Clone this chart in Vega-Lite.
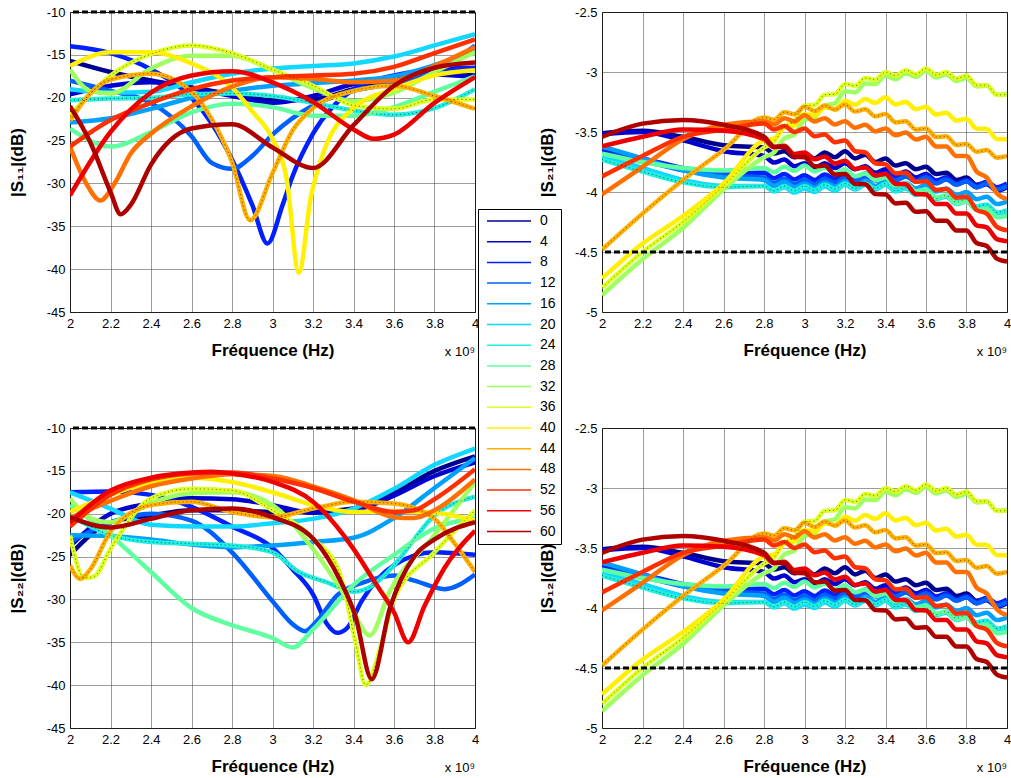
{
"$schema": "https://vega.github.io/schema/vega-lite/v6.json",
"padding": {"left": 7, "top": 5, "right": 5, "bottom": 5},
"datasets": {
"s11": [
{"k":0,"f":2,"v":-15.7},{"k":0,"f":2.2,"v":-17.0},{"k":0,"f":2.4,"v":-18.0},{"k":0,"f":2.6,"v":-18.8},{"k":0,"f":2.8,"v":-19.6},{"k":0,"f":3,"v":-20.3},{"k":0,"f":3.2,"v":-20.2},{"k":0,"f":3.4,"v":-19.0},{"k":0,"f":3.6,"v":-17.8},{"k":0,"f":3.8,"v":-17.2},{"k":0,"f":4,"v":-17.4},
{"k":4,"f":2,"v":-19.6},{"k":4,"f":2.2,"v":-18.6},{"k":4,"f":2.4,"v":-18.2},{"k":4,"f":2.6,"v":-18.9},{"k":4,"f":2.8,"v":-19.8},{"k":4,"f":3,"v":-20.6},{"k":4,"f":3.2,"v":-19.8},{"k":4,"f":3.4,"v":-18.4},{"k":4,"f":3.6,"v":-17.8},{"k":4,"f":3.8,"v":-17.3},{"k":4,"f":4,"v":-17.6},
{"k":8,"f":2,"v":-14.0},{"k":8,"f":2.2,"v":-14.8},{"k":8,"f":2.4,"v":-16.7},{"k":8,"f":2.6,"v":-20.0},{"k":8,"f":2.7,"v":-23.0},{"k":8,"f":2.8,"v":-27.2},{"k":8,"f":2.9,"v":-32.5},{"k":8,"f":2.975,"v":-37.0},{"k":8,"f":3.05,"v":-32.5},{"k":8,"f":3.1,"v":-29.1},{"k":8,"f":3.2,"v":-24.2},{"k":8,"f":3.4,"v":-19.0},{"k":8,"f":3.6,"v":-17.4},{"k":8,"f":3.8,"v":-16.7},{"k":8,"f":4,"v":-16.5},
{"k":12,"f":2,"v":-18.0},{"k":12,"f":2.2,"v":-19.2},{"k":12,"f":2.4,"v":-20.6},{"k":12,"f":2.6,"v":-24.5},{"k":12,"f":2.7,"v":-27.6},{"k":12,"f":2.8,"v":-28.3},{"k":12,"f":2.9,"v":-26.8},{"k":12,"f":3,"v":-24.3},{"k":12,"f":3.2,"v":-20.9},{"k":12,"f":3.4,"v":-19.2},{"k":12,"f":3.6,"v":-18.3},{"k":12,"f":3.8,"v":-17.0},{"k":12,"f":4,"v":-13.9},
{"k":16,"f":2,"v":-22.9},{"k":16,"f":2.2,"v":-22.4},{"k":16,"f":2.4,"v":-21.3},{"k":16,"f":2.6,"v":-20.0},{"k":16,"f":2.8,"v":-19.2},{"k":16,"f":3,"v":-18.6},{"k":16,"f":3.2,"v":-18.3},{"k":16,"f":3.4,"v":-18.0},{"k":16,"f":3.6,"v":-17.5},{"k":16,"f":3.8,"v":-16.2},{"k":16,"f":4,"v":-14.6},
{"k":20,"f":2,"v":-19.0},{"k":20,"f":2.2,"v":-19.4},{"k":20,"f":2.4,"v":-19.3},{"k":20,"f":2.6,"v":-18.2},{"k":20,"f":2.8,"v":-17.2},{"k":20,"f":3,"v":-16.6},{"k":20,"f":3.2,"v":-16.3},{"k":20,"f":3.4,"v":-16.0},{"k":20,"f":3.6,"v":-15.2},{"k":20,"f":3.8,"v":-13.9},{"k":20,"f":4,"v":-12.6},
{"k":24,"f":2,"v":-20.3},{"k":24,"f":2.2,"v":-20.1},{"k":24,"f":2.4,"v":-20.0},{"k":24,"f":2.6,"v":-19.6},{"k":24,"f":2.8,"v":-19.5},{"k":24,"f":3,"v":-19.8},{"k":24,"f":3.2,"v":-20.6},{"k":24,"f":3.4,"v":-21.5},{"k":24,"f":3.6,"v":-22.0},{"k":24,"f":3.8,"v":-21.2},{"k":24,"f":4,"v":-19.0},
{"k":28,"f":2,"v":-23.6},{"k":28,"f":2.2,"v":-25.7},{"k":28,"f":2.4,"v":-24.0},{"k":28,"f":2.6,"v":-21.7},{"k":28,"f":2.8,"v":-20.7},{"k":28,"f":3,"v":-21.1},{"k":28,"f":3.2,"v":-22.1},{"k":28,"f":3.4,"v":-22.1},{"k":28,"f":3.6,"v":-21.1},{"k":28,"f":3.8,"v":-19.3},{"k":28,"f":4,"v":-17.5},
{"k":32,"f":2,"v":-16.7},{"k":32,"f":2.1,"v":-19.2},{"k":32,"f":2.2,"v":-19.5},{"k":32,"f":2.4,"v":-16.6},{"k":32,"f":2.6,"v":-15.1},{"k":32,"f":2.8,"v":-15.1},{"k":32,"f":3,"v":-16.8},{"k":32,"f":3.2,"v":-18.9},{"k":32,"f":3.4,"v":-20.4},{"k":32,"f":3.6,"v":-19.4},{"k":32,"f":3.8,"v":-17.0},{"k":32,"f":4,"v":-14.7},
{"k":36,"f":2,"v":-22.1},{"k":36,"f":2.2,"v":-17.4},{"k":36,"f":2.4,"v":-14.9},{"k":36,"f":2.6,"v":-13.9},{"k":36,"f":2.8,"v":-14.8},{"k":36,"f":3,"v":-16.7},{"k":36,"f":3.2,"v":-18.6},{"k":36,"f":3.4,"v":-20.9},{"k":36,"f":3.6,"v":-21.3},{"k":36,"f":3.8,"v":-20.2},{"k":36,"f":4,"v":-20.2},
{"k":40,"f":2,"v":-16.3},{"k":40,"f":2.2,"v":-14.7},{"k":40,"f":2.4,"v":-14.7},{"k":40,"f":2.6,"v":-16.0},{"k":40,"f":2.8,"v":-18.8},{"k":40,"f":2.9,"v":-21.6},{"k":40,"f":3,"v":-24.8},{"k":40,"f":3.07,"v":-29.5},{"k":40,"f":3.13,"v":-40.4},{"k":40,"f":3.19,"v":-31.5},{"k":40,"f":3.25,"v":-26.5},{"k":40,"f":3.4,"v":-21.2},{"k":40,"f":3.6,"v":-19.0},{"k":40,"f":3.8,"v":-17.4},{"k":40,"f":4,"v":-16.8},
{"k":44,"f":2,"v":-22.7},{"k":44,"f":2.1,"v":-19.5},{"k":44,"f":2.2,"v":-17.9},{"k":44,"f":2.4,"v":-17.2},{"k":44,"f":2.6,"v":-19.3},{"k":44,"f":2.7,"v":-22.5},{"k":44,"f":2.8,"v":-27.5},{"k":44,"f":2.89,"v":-34.3},{"k":44,"f":3,"v":-28.8},{"k":44,"f":3.1,"v":-23.8},{"k":44,"f":3.2,"v":-21.2},{"k":44,"f":3.4,"v":-19.2},{"k":44,"f":3.6,"v":-18.6},{"k":44,"f":3.8,"v":-19.8},{"k":44,"f":4,"v":-21.3},
{"k":48,"f":2,"v":-25.7},{"k":48,"f":2.08,"v":-30.0},{"k":48,"f":2.15,"v":-32.0},{"k":48,"f":2.22,"v":-30.0},{"k":48,"f":2.3,"v":-26.5},{"k":48,"f":2.4,"v":-24.2},{"k":48,"f":2.6,"v":-21.0},{"k":48,"f":2.8,"v":-18.7},{"k":48,"f":3,"v":-17.6},{"k":48,"f":3.2,"v":-17.8},{"k":48,"f":3.4,"v":-18.2},{"k":48,"f":3.6,"v":-18.0},{"k":48,"f":3.8,"v":-16.3},{"k":48,"f":4,"v":-14.1},
{"k":52,"f":2,"v":-25.7},{"k":52,"f":2.2,"v":-22.6},{"k":52,"f":2.4,"v":-20.6},{"k":52,"f":2.6,"v":-19.0},{"k":52,"f":2.8,"v":-18.0},{"k":52,"f":3,"v":-17.6},{"k":52,"f":3.2,"v":-17.4},{"k":52,"f":3.4,"v":-17.2},{"k":52,"f":3.6,"v":-16.4},{"k":52,"f":3.8,"v":-14.8},{"k":52,"f":4,"v":-13.2},
{"k":56,"f":2,"v":-31.4},{"k":56,"f":2.2,"v":-24.0},{"k":56,"f":2.4,"v":-19.4},{"k":56,"f":2.6,"v":-17.4},{"k":56,"f":2.8,"v":-16.9},{"k":56,"f":3,"v":-18.2},{"k":56,"f":3.2,"v":-20.5},{"k":56,"f":3.4,"v":-23.7},{"k":56,"f":3.5,"v":-24.8},{"k":56,"f":3.6,"v":-24.3},{"k":56,"f":3.8,"v":-20.6},{"k":56,"f":4,"v":-17.6},
{"k":60,"f":2,"v":-21.0},{"k":60,"f":2.1,"v":-25.2},{"k":60,"f":2.2,"v":-31.0},{"k":60,"f":2.25,"v":-33.6},{"k":60,"f":2.3,"v":-32.5},{"k":60,"f":2.4,"v":-27.8},{"k":60,"f":2.6,"v":-23.6},{"k":60,"f":2.8,"v":-23.1},{"k":60,"f":3,"v":-25.8},{"k":60,"f":3.2,"v":-28.2},{"k":60,"f":3.4,"v":-23.2},{"k":60,"f":3.6,"v":-18.6},{"k":60,"f":3.8,"v":-16.5},{"k":60,"f":4,"v":-15.9}
],
"s22": [
{"k":0,"f":2,"v":-24.8},{"k":0,"f":2.2,"v":-21.0},{"k":0,"f":2.4,"v":-20.2},{"k":0,"f":2.6,"v":-19.6},{"k":0,"f":2.8,"v":-19.6},{"k":0,"f":3,"v":-19.8},{"k":0,"f":3.2,"v":-19.8},{"k":0,"f":3.4,"v":-19.4},{"k":0,"f":3.6,"v":-17.6},{"k":0,"f":3.8,"v":-15.0},{"k":0,"f":4,"v":-13.3},
{"k":4,"f":2,"v":-23.8},{"k":4,"f":2.2,"v":-20.0},{"k":4,"f":2.4,"v":-18.8},{"k":4,"f":2.6,"v":-18.2},{"k":4,"f":2.8,"v":-18.3},{"k":4,"f":3,"v":-19.0},{"k":4,"f":3.2,"v":-19.9},{"k":4,"f":3.4,"v":-19.6},{"k":4,"f":3.6,"v":-17.9},{"k":4,"f":3.8,"v":-15.6},{"k":4,"f":4,"v":-14.0},
{"k":8,"f":2,"v":-17.5},{"k":8,"f":2.2,"v":-17.4},{"k":8,"f":2.4,"v":-17.8},{"k":8,"f":2.6,"v":-19.2},{"k":8,"f":2.8,"v":-21.5},{"k":8,"f":3,"v":-24.0},{"k":8,"f":3.1,"v":-26.5},{"k":8,"f":3.2,"v":-29.4},{"k":8,"f":3.27,"v":-32.9},{"k":8,"f":3.32,"v":-33.9},{"k":8,"f":3.37,"v":-33.3},{"k":8,"f":3.44,"v":-30.2},{"k":8,"f":3.6,"v":-26.0},{"k":8,"f":3.8,"v":-24.5},{"k":8,"f":4,"v":-24.8},
{"k":12,"f":2,"v":-23.3},{"k":12,"f":2.2,"v":-21.0},{"k":12,"f":2.4,"v":-20.0},{"k":12,"f":2.6,"v":-20.8},{"k":12,"f":2.8,"v":-24.5},{"k":12,"f":3,"v":-30.2},{"k":12,"f":3.1,"v":-32.9},{"k":12,"f":3.16,"v":-33.7},{"k":12,"f":3.22,"v":-32.5},{"k":12,"f":3.32,"v":-29.5},{"k":12,"f":3.45,"v":-28.0},{"k":12,"f":3.6,"v":-27.2},{"k":12,"f":3.7,"v":-27.8},{"k":12,"f":3.85,"v":-28.8},{"k":12,"f":4,"v":-27.1},
{"k":16,"f":2,"v":-22.5},{"k":16,"f":2.2,"v":-22.6},{"k":16,"f":2.4,"v":-23.0},{"k":16,"f":2.6,"v":-23.6},{"k":16,"f":2.8,"v":-23.9},{"k":16,"f":3,"v":-23.7},{"k":16,"f":3.2,"v":-23.3},{"k":16,"f":3.4,"v":-22.8},{"k":16,"f":3.6,"v":-20.5},{"k":16,"f":3.8,"v":-17.0},{"k":16,"f":4,"v":-13.5},
{"k":20,"f":2,"v":-17.5},{"k":20,"f":2.2,"v":-19.4},{"k":20,"f":2.4,"v":-21.3},{"k":20,"f":2.6,"v":-21.5},{"k":20,"f":2.8,"v":-21.5},{"k":20,"f":3,"v":-21.1},{"k":20,"f":3.2,"v":-20.6},{"k":20,"f":3.4,"v":-19.4},{"k":20,"f":3.6,"v":-17.1},{"k":20,"f":3.8,"v":-14.3},{"k":20,"f":4,"v":-12.4},
{"k":24,"f":2,"v":-20.2},{"k":24,"f":2.2,"v":-22.5},{"k":24,"f":2.4,"v":-23.3},{"k":24,"f":2.6,"v":-23.5},{"k":24,"f":2.8,"v":-23.7},{"k":24,"f":3,"v":-24.5},{"k":24,"f":3.13,"v":-26.8},{"k":24,"f":3.27,"v":-28.0},{"k":24,"f":3.4,"v":-29.1},{"k":24,"f":3.5,"v":-28.3},{"k":24,"f":3.6,"v":-26.0},{"k":24,"f":3.8,"v":-20.2},{"k":24,"f":4,"v":-18.0},
{"k":28,"f":2,"v":-19.0},{"k":28,"f":2.2,"v":-22.5},{"k":28,"f":2.4,"v":-26.8},{"k":28,"f":2.6,"v":-31.0},{"k":28,"f":2.8,"v":-33.0},{"k":28,"f":3,"v":-34.5},{"k":28,"f":3.1,"v":-35.6},{"k":28,"f":3.2,"v":-33.5},{"k":28,"f":3.4,"v":-28.3},{"k":28,"f":3.6,"v":-24.8},{"k":28,"f":3.8,"v":-21.7},{"k":28,"f":4,"v":-20.5},
{"k":32,"f":2,"v":-18.2},{"k":32,"f":2.1,"v":-20.5},{"k":32,"f":2.2,"v":-21.0},{"k":32,"f":2.3,"v":-20.0},{"k":32,"f":2.4,"v":-18.8},{"k":32,"f":2.6,"v":-17.6},{"k":32,"f":2.8,"v":-17.5},{"k":32,"f":3,"v":-19.0},{"k":32,"f":3.2,"v":-24.1},{"k":32,"f":3.37,"v":-30.0},{"k":32,"f":3.48,"v":-34.2},{"k":32,"f":3.58,"v":-29.0},{"k":32,"f":3.8,"v":-22.5},{"k":32,"f":4,"v":-16.3},
{"k":36,"f":2,"v":-22.5},{"k":36,"f":2.07,"v":-27.5},{"k":36,"f":2.12,"v":-27.3},{"k":36,"f":2.2,"v":-24.1},{"k":36,"f":2.4,"v":-18.2},{"k":36,"f":2.6,"v":-17.1},{"k":36,"f":2.8,"v":-17.3},{"k":36,"f":3,"v":-19.6},{"k":36,"f":3.2,"v":-22.9},{"k":36,"f":3.33,"v":-26.8},{"k":36,"f":3.41,"v":-35.0},{"k":36,"f":3.46,"v":-40.0},{"k":36,"f":3.54,"v":-35.0},{"k":36,"f":3.6,"v":-30.0},{"k":36,"f":3.8,"v":-24.5},{"k":36,"f":4,"v":-19.6},
{"k":40,"f":2,"v":-19.8},{"k":40,"f":2.2,"v":-17.8},{"k":40,"f":2.4,"v":-16.3},{"k":40,"f":2.6,"v":-15.8},{"k":40,"f":2.8,"v":-16.3},{"k":40,"f":3,"v":-17.5},{"k":40,"f":3.2,"v":-19.0},{"k":40,"f":3.4,"v":-19.8},{"k":40,"f":3.6,"v":-19.7},{"k":40,"f":3.8,"v":-19.9},{"k":40,"f":4,"v":-20.8},
{"k":44,"f":2,"v":-26.0},{"k":44,"f":2.05,"v":-27.6},{"k":44,"f":2.1,"v":-26.5},{"k":44,"f":2.2,"v":-22.1},{"k":44,"f":2.4,"v":-19.0},{"k":44,"f":2.6,"v":-18.6},{"k":44,"f":2.8,"v":-19.8},{"k":44,"f":3,"v":-20.4},{"k":44,"f":3.2,"v":-19.4},{"k":44,"f":3.4,"v":-18.6},{"k":44,"f":3.6,"v":-18.8},{"k":44,"f":3.8,"v":-20.6},{"k":44,"f":3.9,"v":-23.5},{"k":44,"f":4,"v":-26.8},
{"k":48,"f":2,"v":-20.5},{"k":48,"f":2.2,"v":-18.5},{"k":48,"f":2.4,"v":-16.8},{"k":48,"f":2.6,"v":-15.9},{"k":48,"f":2.8,"v":-15.4},{"k":48,"f":3,"v":-15.6},{"k":48,"f":3.2,"v":-16.8},{"k":48,"f":3.4,"v":-18.4},{"k":48,"f":3.6,"v":-20.4},{"k":48,"f":3.7,"v":-20.5},{"k":48,"f":3.8,"v":-19.6},{"k":48,"f":4,"v":-16.0},
{"k":52,"f":2,"v":-21.5},{"k":52,"f":2.2,"v":-17.8},{"k":52,"f":2.4,"v":-16.0},{"k":52,"f":2.6,"v":-15.3},{"k":52,"f":2.8,"v":-15.2},{"k":52,"f":3,"v":-15.9},{"k":52,"f":3.2,"v":-17.0},{"k":52,"f":3.4,"v":-18.6},{"k":52,"f":3.6,"v":-19.8},{"k":52,"f":3.7,"v":-19.6},{"k":52,"f":3.8,"v":-18.3},{"k":52,"f":4,"v":-14.8},
{"k":56,"f":2,"v":-21.0},{"k":56,"f":2.2,"v":-17.3},{"k":56,"f":2.4,"v":-15.8},{"k":56,"f":2.6,"v":-15.2},{"k":56,"f":2.7,"v":-15.1},{"k":56,"f":2.8,"v":-15.3},{"k":56,"f":3,"v":-16.3},{"k":56,"f":3.2,"v":-18.6},{"k":56,"f":3.4,"v":-24.1},{"k":56,"f":3.5,"v":-27.8},{"k":56,"f":3.6,"v":-31.5},{"k":56,"f":3.67,"v":-35.0},{"k":56,"f":3.75,"v":-30.8},{"k":56,"f":3.85,"v":-26.3},{"k":56,"f":4,"v":-22.0},
{"k":60,"f":2,"v":-20.4},{"k":60,"f":2.2,"v":-21.6},{"k":60,"f":2.4,"v":-20.6},{"k":60,"f":2.6,"v":-19.6},{"k":60,"f":2.8,"v":-19.4},{"k":60,"f":3,"v":-20.4},{"k":60,"f":3.2,"v":-22.9},{"k":60,"f":3.33,"v":-27.6},{"k":60,"f":3.41,"v":-32.0},{"k":60,"f":3.49,"v":-39.3},{"k":60,"f":3.58,"v":-31.0},{"k":60,"f":3.7,"v":-25.0},{"k":60,"f":3.8,"v":-23.0},{"k":60,"f":4,"v":-21.0}
],
"s21": [
{"k":0,"f":2,"v":-3.51},{"k":0,"f":2.2,"v":-3.49},{"k":0,"f":2.4,"v":-3.54},{"k":0,"f":2.6,"v":-3.61},{"k":0,"f":2.8,"v":-3.63},{"k":0,"f":2.85,"v":-3.68},{"k":0,"f":2.9,"v":-3.66},{"k":0,"f":2.95,"v":-3.71},{"k":0,"f":3,"v":-3.68},{"k":0,"f":3.05,"v":-3.72},{"k":0,"f":3.1,"v":-3.67},{"k":0,"f":3.15,"v":-3.71},{"k":0,"f":3.2,"v":-3.66},{"k":0,"f":3.25,"v":-3.72},{"k":0,"f":3.3,"v":-3.69},{"k":0,"f":3.35,"v":-3.75},{"k":0,"f":3.4,"v":-3.72},{"k":0,"f":3.45,"v":-3.78},{"k":0,"f":3.5,"v":-3.76},{"k":0,"f":3.55,"v":-3.81},{"k":0,"f":3.6,"v":-3.79},{"k":0,"f":3.65,"v":-3.85},{"k":0,"f":3.7,"v":-3.84},{"k":0,"f":3.75,"v":-3.90},{"k":0,"f":3.8,"v":-3.88},{"k":0,"f":3.85,"v":-3.94},{"k":0,"f":3.9,"v":-3.92},{"k":0,"f":3.95,"v":-3.97},{"k":0,"f":4,"v":-3.95},
{"k":4,"f":2,"v":-3.52},{"k":4,"f":2.2,"v":-3.50},{"k":4,"f":2.4,"v":-3.57},{"k":4,"f":2.6,"v":-3.66},{"k":4,"f":2.8,"v":-3.70},{"k":4,"f":2.85,"v":-3.755},{"k":4,"f":2.9,"v":-3.73},{"k":4,"f":2.95,"v":-3.785},{"k":4,"f":3,"v":-3.76},{"k":4,"f":3.05,"v":-3.80},{"k":4,"f":3.1,"v":-3.76},{"k":4,"f":3.15,"v":-3.80},{"k":4,"f":3.2,"v":-3.76},{"k":4,"f":3.25,"v":-3.81},{"k":4,"f":3.3,"v":-3.785},{"k":4,"f":3.35,"v":-3.84},{"k":4,"f":3.4,"v":-3.81},{"k":4,"f":3.45,"v":-3.86},{"k":4,"f":3.5,"v":-3.83},{"k":4,"f":3.55,"v":-3.88},{"k":4,"f":3.6,"v":-3.85},{"k":4,"f":3.65,"v":-3.905},{"k":4,"f":3.7,"v":-3.88},{"k":4,"f":3.75,"v":-3.935},{"k":4,"f":3.8,"v":-3.91},{"k":4,"f":3.85,"v":-3.96},{"k":4,"f":3.9,"v":-3.935},{"k":4,"f":3.95,"v":-3.99},{"k":4,"f":4,"v":-3.96},
{"k":8,"f":2,"v":-3.66},{"k":8,"f":2.2,"v":-3.72},{"k":8,"f":2.4,"v":-3.80},{"k":8,"f":2.6,"v":-3.84},{"k":8,"f":2.8,"v":-3.84},{"k":8,"f":2.85,"v":-3.885},{"k":8,"f":2.9,"v":-3.85},{"k":8,"f":2.95,"v":-3.895},{"k":8,"f":3,"v":-3.86},{"k":8,"f":3.05,"v":-3.90},{"k":8,"f":3.1,"v":-3.855},{"k":8,"f":3.15,"v":-3.89},{"k":8,"f":3.2,"v":-3.85},{"k":8,"f":3.25,"v":-3.89},{"k":8,"f":3.3,"v":-3.845},{"k":8,"f":3.35,"v":-3.88},{"k":8,"f":3.4,"v":-3.84},{"k":8,"f":3.45,"v":-3.885},{"k":8,"f":3.5,"v":-3.85},{"k":8,"f":3.55,"v":-3.895},{"k":8,"f":3.6,"v":-3.86},{"k":8,"f":3.65,"v":-3.91},{"k":8,"f":3.7,"v":-3.88},{"k":8,"f":3.75,"v":-3.93},{"k":8,"f":3.8,"v":-3.90},{"k":8,"f":3.85,"v":-3.95},{"k":8,"f":3.9,"v":-3.915},{"k":8,"f":3.95,"v":-3.96},{"k":8,"f":4,"v":-3.93},
{"k":12,"f":2,"v":-3.68},{"k":12,"f":2.2,"v":-3.74},{"k":12,"f":2.4,"v":-3.82},{"k":12,"f":2.6,"v":-3.86},{"k":12,"f":2.8,"v":-3.88},{"k":12,"f":2.85,"v":-3.925},{"k":12,"f":2.9,"v":-3.89},{"k":12,"f":2.95,"v":-3.935},{"k":12,"f":3,"v":-3.90},{"k":12,"f":3.05,"v":-3.935},{"k":12,"f":3.1,"v":-3.89},{"k":12,"f":3.15,"v":-3.925},{"k":12,"f":3.2,"v":-3.88},{"k":12,"f":3.25,"v":-3.915},{"k":12,"f":3.3,"v":-3.87},{"k":12,"f":3.35,"v":-3.905},{"k":12,"f":3.4,"v":-3.86},{"k":12,"f":3.45,"v":-3.905},{"k":12,"f":3.5,"v":-3.87},{"k":12,"f":3.55,"v":-3.915},{"k":12,"f":3.6,"v":-3.88},{"k":12,"f":3.65,"v":-3.93},{"k":12,"f":3.7,"v":-3.895},{"k":12,"f":3.75,"v":-3.94},{"k":12,"f":3.8,"v":-3.91},{"k":12,"f":3.85,"v":-3.96},{"k":12,"f":3.9,"v":-3.93},{"k":12,"f":3.95,"v":-3.98},{"k":12,"f":4,"v":-3.95},
{"k":16,"f":2,"v":-3.62},{"k":16,"f":2.2,"v":-3.72},{"k":16,"f":2.4,"v":-3.82},{"k":16,"f":2.6,"v":-3.88},{"k":16,"f":2.8,"v":-3.90},{"k":16,"f":2.85,"v":-3.95},{"k":16,"f":2.9,"v":-3.915},{"k":16,"f":2.95,"v":-3.96},{"k":16,"f":3,"v":-3.93},{"k":16,"f":3.05,"v":-3.965},{"k":16,"f":3.1,"v":-3.92},{"k":16,"f":3.15,"v":-3.955},{"k":16,"f":3.2,"v":-3.91},{"k":16,"f":3.25,"v":-3.95},{"k":16,"f":3.3,"v":-3.91},{"k":16,"f":3.35,"v":-3.95},{"k":16,"f":3.4,"v":-3.91},{"k":16,"f":3.45,"v":-3.96},{"k":16,"f":3.5,"v":-3.925},{"k":16,"f":3.55,"v":-3.97},{"k":16,"f":3.6,"v":-3.94},{"k":16,"f":3.65,"v":-3.995},{"k":16,"f":3.7,"v":-3.97},{"k":16,"f":3.75,"v":-4.025},{"k":16,"f":3.8,"v":-4.00},{"k":16,"f":3.85,"v":-4.06},{"k":16,"f":3.9,"v":-4.04},{"k":16,"f":3.95,"v":-4.10},{"k":16,"f":4,"v":-4.08},
{"k":20,"f":2,"v":-3.70},{"k":20,"f":2.2,"v":-3.80},{"k":20,"f":2.4,"v":-3.90},{"k":20,"f":2.6,"v":-3.95},{"k":20,"f":2.8,"v":-3.95},{"k":20,"f":2.85,"v":-3.995},{"k":20,"f":2.9,"v":-3.96},{"k":20,"f":2.95,"v":-4.005},{"k":20,"f":3,"v":-3.97},{"k":20,"f":3.05,"v":-4.00},{"k":20,"f":3.1,"v":-3.955},{"k":20,"f":3.15,"v":-3.99},{"k":20,"f":3.2,"v":-3.94},{"k":20,"f":3.25,"v":-3.98},{"k":20,"f":3.3,"v":-3.94},{"k":20,"f":3.35,"v":-3.98},{"k":20,"f":3.4,"v":-3.94},{"k":20,"f":3.45,"v":-3.995},{"k":20,"f":3.5,"v":-3.97},{"k":20,"f":3.55,"v":-4.025},{"k":20,"f":3.6,"v":-4.00},{"k":20,"f":3.65,"v":-4.06},{"k":20,"f":3.7,"v":-4.04},{"k":20,"f":3.75,"v":-4.10},{"k":20,"f":3.8,"v":-4.08},{"k":20,"f":3.85,"v":-4.145},{"k":20,"f":3.9,"v":-4.13},{"k":20,"f":3.95,"v":-4.195},{"k":20,"f":4,"v":-4.18},
{"k":24,"f":2,"v":-3.73},{"k":24,"f":2.2,"v":-3.83},{"k":24,"f":2.4,"v":-3.92},{"k":24,"f":2.6,"v":-3.96},{"k":24,"f":2.8,"v":-3.95},{"k":24,"f":2.85,"v":-3.99},{"k":24,"f":2.9,"v":-3.95},{"k":24,"f":2.95,"v":-3.99},{"k":24,"f":3,"v":-3.95},{"k":24,"f":3.05,"v":-3.985},{"k":24,"f":3.1,"v":-3.94},{"k":24,"f":3.15,"v":-3.975},{"k":24,"f":3.2,"v":-3.93},{"k":24,"f":3.25,"v":-3.97},{"k":24,"f":3.3,"v":-3.93},{"k":24,"f":3.35,"v":-3.97},{"k":24,"f":3.4,"v":-3.93},{"k":24,"f":3.45,"v":-3.99},{"k":24,"f":3.5,"v":-3.965},{"k":24,"f":3.55,"v":-4.02},{"k":24,"f":3.6,"v":-4.00},{"k":24,"f":3.65,"v":-4.055},{"k":24,"f":3.7,"v":-4.03},{"k":24,"f":3.75,"v":-4.085},{"k":24,"f":3.8,"v":-4.06},{"k":24,"f":3.85,"v":-4.12},{"k":24,"f":3.9,"v":-4.105},{"k":24,"f":3.95,"v":-4.17},{"k":24,"f":4,"v":-4.15},
{"k":28,"f":2,"v":-3.68},{"k":28,"f":2.2,"v":-3.75},{"k":28,"f":2.4,"v":-3.80},{"k":28,"f":2.6,"v":-3.82},{"k":28,"f":2.8,"v":-3.80},{"k":28,"f":2.85,"v":-3.835},{"k":28,"f":2.9,"v":-3.79},{"k":28,"f":2.95,"v":-3.825},{"k":28,"f":3,"v":-3.78},{"k":28,"f":3.05,"v":-3.83},{"k":28,"f":3.1,"v":-3.795},{"k":28,"f":3.15,"v":-3.845},{"k":28,"f":3.2,"v":-3.81},{"k":28,"f":3.25,"v":-3.87},{"k":28,"f":3.3,"v":-3.845},{"k":28,"f":3.35,"v":-3.90},{"k":28,"f":3.4,"v":-3.88},{"k":28,"f":3.45,"v":-3.945},{"k":28,"f":3.5,"v":-3.93},{"k":28,"f":3.55,"v":-3.995},{"k":28,"f":3.6,"v":-3.98},{"k":28,"f":3.65,"v":-4.045},{"k":28,"f":3.7,"v":-4.03},{"k":28,"f":3.75,"v":-4.095},{"k":28,"f":3.8,"v":-4.08},{"k":28,"f":3.85,"v":-4.15},{"k":28,"f":3.9,"v":-4.14},{"k":28,"f":3.95,"v":-4.21},{"k":28,"f":4,"v":-4.20},
{"k":32,"f":2,"v":-4.86},{"k":32,"f":2.2,"v":-4.56},{"k":32,"f":2.4,"v":-4.30},{"k":32,"f":2.6,"v":-3.98},{"k":32,"f":2.8,"v":-3.71},{"k":32,"f":2.85,"v":-3.67},{"k":32,"f":2.9,"v":-3.555},{"k":32,"f":2.95,"v":-3.52},{"k":32,"f":3,"v":-3.40},{"k":32,"f":3.05,"v":-3.38},{"k":32,"f":3.1,"v":-3.28},{"k":32,"f":3.15,"v":-3.26},{"k":32,"f":3.2,"v":-3.16},{"k":32,"f":3.25,"v":-3.17},{"k":32,"f":3.3,"v":-3.095},{"k":32,"f":3.35,"v":-3.10},{"k":32,"f":3.4,"v":-3.03},{"k":32,"f":3.45,"v":-3.06},{"k":32,"f":3.5,"v":-3.01},{"k":32,"f":3.55,"v":-3.04},{"k":32,"f":3.6,"v":-2.99},{"k":32,"f":3.65,"v":-3.045},{"k":32,"f":3.7,"v":-3.02},{"k":32,"f":3.75,"v":-3.075},{"k":32,"f":3.8,"v":-3.05},{"k":32,"f":3.85,"v":-3.12},{"k":32,"f":3.9,"v":-3.115},{"k":32,"f":3.95,"v":-3.19},{"k":32,"f":4,"v":-3.18},
{"k":36,"f":2,"v":-4.80},{"k":36,"f":2.2,"v":-4.50},{"k":36,"f":2.4,"v":-4.25},{"k":36,"f":2.6,"v":-3.95},{"k":36,"f":2.8,"v":-3.63},{"k":36,"f":2.85,"v":-3.58},{"k":36,"f":2.9,"v":-3.455},{"k":36,"f":2.95,"v":-3.41},{"k":36,"f":3,"v":-3.28},{"k":36,"f":3.05,"v":-3.275},{"k":36,"f":3.1,"v":-3.19},{"k":36,"f":3.15,"v":-3.185},{"k":36,"f":3.2,"v":-3.10},{"k":36,"f":3.25,"v":-3.115},{"k":36,"f":3.3,"v":-3.05},{"k":36,"f":3.35,"v":-3.065},{"k":36,"f":3.4,"v":-3.00},{"k":36,"f":3.45,"v":-3.03},{"k":36,"f":3.5,"v":-2.985},{"k":36,"f":3.55,"v":-3.02},{"k":36,"f":3.6,"v":-2.97},{"k":36,"f":3.65,"v":-3.025},{"k":36,"f":3.7,"v":-3.00},{"k":36,"f":3.75,"v":-3.055},{"k":36,"f":3.8,"v":-3.03},{"k":36,"f":3.85,"v":-3.11},{"k":36,"f":3.9,"v":-3.11},{"k":36,"f":3.95,"v":-3.19},{"k":36,"f":4,"v":-3.19},
{"k":40,"f":2,"v":-4.72},{"k":40,"f":2.2,"v":-4.43},{"k":40,"f":2.4,"v":-4.20},{"k":40,"f":2.6,"v":-3.93},{"k":40,"f":2.8,"v":-3.57},{"k":40,"f":2.85,"v":-3.555},{"k":40,"f":2.9,"v":-3.46},{"k":40,"f":2.95,"v":-3.445},{"k":40,"f":3,"v":-3.35},{"k":40,"f":3.05,"v":-3.3625},{"k":40,"f":3.1,"v":-3.295},{"k":40,"f":3.15,"v":-3.3075},{"k":40,"f":3.2,"v":-3.24},{"k":40,"f":3.25,"v":-3.2725},{"k":40,"f":3.3,"v":-3.225},{"k":40,"f":3.35,"v":-3.2575},{"k":40,"f":3.4,"v":-3.21},{"k":40,"f":3.45,"v":-3.27},{"k":40,"f":3.5,"v":-3.25},{"k":40,"f":3.55,"v":-3.31},{"k":40,"f":3.6,"v":-3.29},{"k":40,"f":3.65,"v":-3.355},{"k":40,"f":3.7,"v":-3.34},{"k":40,"f":3.75,"v":-3.405},{"k":40,"f":3.8,"v":-3.39},{"k":40,"f":3.85,"v":-3.4725},{"k":40,"f":3.9,"v":-3.475},{"k":40,"f":3.95,"v":-3.5575},{"k":40,"f":4,"v":-3.56},
{"k":44,"f":2,"v":-4.48},{"k":44,"f":2.2,"v":-4.18},{"k":44,"f":2.4,"v":-3.90},{"k":44,"f":2.6,"v":-3.65},{"k":44,"f":2.8,"v":-3.38},{"k":44,"f":2.85,"v":-3.3975},{"k":44,"f":2.9,"v":-3.335},{"k":44,"f":2.95,"v":-3.3525},{"k":44,"f":3,"v":-3.29},{"k":44,"f":3.05,"v":-3.325},{"k":44,"f":3.1,"v":-3.28},{"k":44,"f":3.15,"v":-3.315},{"k":44,"f":3.2,"v":-3.27},{"k":44,"f":3.25,"v":-3.33},{"k":44,"f":3.3,"v":-3.31},{"k":44,"f":3.35,"v":-3.37},{"k":44,"f":3.4,"v":-3.35},{"k":44,"f":3.45,"v":-3.42},{"k":44,"f":3.5,"v":-3.41},{"k":44,"f":3.55,"v":-3.48},{"k":44,"f":3.6,"v":-3.47},{"k":44,"f":3.65,"v":-3.5425},{"k":44,"f":3.7,"v":-3.535},{"k":44,"f":3.75,"v":-3.6075},{"k":44,"f":3.8,"v":-3.60},{"k":44,"f":3.85,"v":-3.665},{"k":44,"f":3.9,"v":-3.65},{"k":44,"f":3.95,"v":-3.715},{"k":44,"f":4,"v":-3.70},
{"k":48,"f":2,"v":-4.02},{"k":48,"f":2.2,"v":-3.79},{"k":48,"f":2.4,"v":-3.56},{"k":48,"f":2.6,"v":-3.44},{"k":48,"f":2.8,"v":-3.41},{"k":48,"f":2.85,"v":-3.4375},{"k":48,"f":2.9,"v":-3.385},{"k":48,"f":2.95,"v":-3.4125},{"k":48,"f":3,"v":-3.36},{"k":48,"f":3.05,"v":-3.4125},{"k":48,"f":3.1,"v":-3.385},{"k":48,"f":3.15,"v":-3.4375},{"k":48,"f":3.2,"v":-3.41},{"k":48,"f":3.25,"v":-3.465},{"k":48,"f":3.3,"v":-3.44},{"k":48,"f":3.35,"v":-3.495},{"k":48,"f":3.4,"v":-3.47},{"k":48,"f":3.45,"v":-3.5275},{"k":48,"f":3.5,"v":-3.505},{"k":48,"f":3.55,"v":-3.5625},{"k":48,"f":3.6,"v":-3.54},{"k":48,"f":3.65,"v":-3.62},{"k":48,"f":3.7,"v":-3.62},{"k":48,"f":3.75,"v":-3.70},{"k":48,"f":3.8,"v":-3.70},{"k":48,"f":3.85,"v":-3.83},{"k":48,"f":3.9,"v":-3.88},{"k":48,"f":3.95,"v":-4.01},{"k":48,"f":4,"v":-4.06},
{"k":52,"f":2,"v":-3.87},{"k":52,"f":2.2,"v":-3.70},{"k":52,"f":2.4,"v":-3.54},{"k":52,"f":2.6,"v":-3.48},{"k":52,"f":2.8,"v":-3.43},{"k":52,"f":2.85,"v":-3.48},{"k":52,"f":2.9,"v":-3.45},{"k":52,"f":2.95,"v":-3.50},{"k":52,"f":3,"v":-3.47},{"k":52,"f":3.05,"v":-3.535},{"k":52,"f":3.1,"v":-3.52},{"k":52,"f":3.15,"v":-3.585},{"k":52,"f":3.2,"v":-3.57},{"k":52,"f":3.25,"v":-3.66},{"k":52,"f":3.3,"v":-3.67},{"k":52,"f":3.35,"v":-3.76},{"k":52,"f":3.4,"v":-3.77},{"k":52,"f":3.45,"v":-3.845},{"k":52,"f":3.5,"v":-3.84},{"k":52,"f":3.55,"v":-3.915},{"k":52,"f":3.6,"v":-3.91},{"k":52,"f":3.65,"v":-3.9825},{"k":52,"f":3.7,"v":-3.975},{"k":52,"f":3.75,"v":-4.0475},{"k":52,"f":3.8,"v":-4.04},{"k":52,"f":3.85,"v":-4.15},{"k":52,"f":3.9,"v":-4.18},{"k":52,"f":3.95,"v":-4.29},{"k":52,"f":4,"v":-4.32},
{"k":56,"f":2,"v":-3.62},{"k":56,"f":2.2,"v":-3.54},{"k":56,"f":2.4,"v":-3.48},{"k":56,"f":2.6,"v":-3.49},{"k":56,"f":2.8,"v":-3.56},{"k":56,"f":2.85,"v":-3.6275},{"k":56,"f":2.9,"v":-3.615},{"k":56,"f":2.95,"v":-3.6825},{"k":56,"f":3,"v":-3.67},{"k":56,"f":3.05,"v":-3.7275},{"k":56,"f":3.1,"v":-3.705},{"k":56,"f":3.15,"v":-3.7625},{"k":56,"f":3.2,"v":-3.74},{"k":56,"f":3.25,"v":-3.8075},{"k":56,"f":3.3,"v":-3.795},{"k":56,"f":3.35,"v":-3.8625},{"k":56,"f":3.4,"v":-3.85},{"k":56,"f":3.45,"v":-3.9325},{"k":56,"f":3.5,"v":-3.935},{"k":56,"f":3.55,"v":-4.0175},{"k":56,"f":3.6,"v":-4.02},{"k":56,"f":3.65,"v":-4.10},{"k":56,"f":3.7,"v":-4.10},{"k":56,"f":3.75,"v":-4.18},{"k":56,"f":3.8,"v":-4.18},{"k":56,"f":3.85,"v":-4.2775},{"k":56,"f":3.9,"v":-4.295},{"k":56,"f":3.95,"v":-4.3925},{"k":56,"f":4,"v":-4.41},
{"k":60,"f":2,"v":-3.54},{"k":60,"f":2.2,"v":-3.43},{"k":60,"f":2.4,"v":-3.40},{"k":60,"f":2.6,"v":-3.44},{"k":60,"f":2.8,"v":-3.54},{"k":60,"f":2.85,"v":-3.6225},{"k":60,"f":2.9,"v":-3.625},{"k":60,"f":2.95,"v":-3.7075},{"k":60,"f":3,"v":-3.71},{"k":60,"f":3.05,"v":-3.785},{"k":60,"f":3.1,"v":-3.78},{"k":60,"f":3.15,"v":-3.855},{"k":60,"f":3.2,"v":-3.85},{"k":60,"f":3.25,"v":-3.9325},{"k":60,"f":3.3,"v":-3.935},{"k":60,"f":3.35,"v":-4.0175},{"k":60,"f":3.4,"v":-4.02},{"k":60,"f":3.45,"v":-4.095},{"k":60,"f":3.5,"v":-4.09},{"k":60,"f":3.55,"v":-4.165},{"k":60,"f":3.6,"v":-4.16},{"k":60,"f":3.65,"v":-4.24},{"k":60,"f":3.7,"v":-4.24},{"k":60,"f":3.75,"v":-4.32},{"k":60,"f":3.8,"v":-4.32},{"k":60,"f":3.85,"v":-4.425},{"k":60,"f":3.9,"v":-4.45},{"k":60,"f":3.95,"v":-4.555},{"k":60,"f":4,"v":-4.58}
]
},
"config": {
  "font": "Liberation Sans",
  "view": {"stroke": "black", "strokeWidth": 1},
  "axis": {"grid": true, "gridColor": "#3a3a3a", "gridDash": [1, 1], "gridWidth": 1, "ticks": false, "domain": false, "labelFontSize": 13, "labelColor": "black", "titleFontSize": 17, "titleFontWeight": "bold", "titleColor": "black", "labelPadding": 5, "labelExpr": "'' + datum.value"},
  "axisX": {"titlePadding": 12, "labelFlush": false},
  "axisY": {"titlePadding": 18},
  "legend": {"orient": "none", "legendX": 408, "legendY": 197, "padding": 5, "strokeColor": "black", "fillColor": "white", "symbolType": "M-4.2,0H4.2", "symbolSize": 110, "symbolStrokeWidth": 1.5, "symbolOffset": 19, "labelOffset": 24, "labelFontSize": 14, "labelColor": "black", "rowPadding": 6.7, "symbolLimit": 0}
},
"resolve": {"scale": {"color": "shared"}, "legend": {"color": "shared"}},
"bounds": "flush",
"columns": 2,
"spacing": {"row": 116, "column": 127},
"concat": [
{
 "width": 405, "height": 300,
 "layer": [
  {"data": {"name": "s11"},
   "mark": {"type": "line", "strokeWidth": 4.5, "interpolate": "monotone", "clip": true},
   "encoding": {
    "x": {"field": "f", "type": "quantitative", "scale": {"domain": [2, 4], "nice": false, "zero": false}, "axis": {"values": [2, 2.2, 2.4, 2.6, 2.8, 3, 3.2, 3.4, 3.6, 3.8, 4], "title": "Fréquence (Hz)"}},
    "y": {"field": "v", "type": "quantitative", "scale": {"domain": [-45, -10], "nice": false, "zero": false}, "axis": {"values": [-45, -40, -35, -30, -25, -20, -15, -10], "title": "|S₁₁|(dB)", "titlePadding": 20}},
    "color": {"field": "k", "type": "ordinal", "scale": {"domain": [0, 4, 8, 12, 16, 20, 24, 28, 32, 36, 40, 44, 48, 52, 56, 60], "range": ["#000090", "#0000CF", "#0020FF", "#0060FF", "#00A0FF", "#10D8FF", "#20EFDF", "#60FFA0", "#9FFF60", "#DFFF20", "#FFEF00", "#FFAF00", "#FF7000", "#FF3000", "#EF0000", "#AF0000"]}, "legend": {"title": null}}
   }},
  {"data": {"name": "s11"},
   "transform": [{"filter": {"field": "k", "oneOf": [24, 36, 44]}}],
   "mark": {"type": "line", "stroke": "black", "strokeWidth": 1, "strokeDash": [1, 3], "opacity": 0.6, "interpolate": "monotone", "clip": true},
   "encoding": {"x": {"field": "f", "type": "quantitative"}, "y": {"field": "v", "type": "quantitative"}, "detail": {"field": "k"}}},
  {"data": {"values": [{}]}, "mark": {"type": "rule", "strokeDash": [6, 3], "strokeWidth": 3, "color": "black"}, "encoding": {"y": {"datum": -10}}},
  {"data": {"values": [{}]}, "mark": {"type": "text", "text": "x 10⁹", "align": "right", "baseline": "alphabetic", "dy": 44, "fontSize": 13, "fontWeight": "normal"}, "encoding": {"x": {"datum": 4}, "y": {"datum": -45}}}
 ]
},
{
 "width": 405, "height": 300,
 "layer": [
  {"data": {"name": "s21"},
   "mark": {"type": "line", "strokeWidth": 4.5, "interpolate": "monotone", "clip": true},
   "encoding": {
    "x": {"field": "f", "type": "quantitative", "scale": {"domain": [2, 4], "nice": false, "zero": false}, "axis": {"values": [2, 2.2, 2.4, 2.6, 2.8, 3, 3.2, 3.4, 3.6, 3.8, 4], "title": "Fréquence (Hz)"}},
    "y": {"field": "v", "type": "quantitative", "scale": {"domain": [-5, -2.5], "nice": false, "zero": false}, "axis": {"values": [-5, -4.5, -4, -3.5, -3, -2.5], "title": "|S₂₁|(dB)"}},
    "color": {"field": "k", "type": "ordinal", "legend": {"title": null}}
   }},
  {"data": {"name": "s21"},
   "transform": [{"filter": {"field": "k", "oneOf": [24, 36, 44]}}],
   "mark": {"type": "line", "stroke": "black", "strokeWidth": 1, "strokeDash": [1, 3], "opacity": 0.6, "interpolate": "monotone", "clip": true},
   "encoding": {"x": {"field": "f", "type": "quantitative"}, "y": {"field": "v", "type": "quantitative"}, "detail": {"field": "k"}}},
  {"data": {"values": [{}]}, "mark": {"type": "rule", "strokeDash": [6, 3], "strokeWidth": 3, "color": "black"}, "encoding": {"y": {"datum": -4.5}}},
  {"data": {"values": [{}]}, "mark": {"type": "text", "text": "x 10⁹", "align": "right", "baseline": "alphabetic", "dy": 44, "fontSize": 13, "fontWeight": "normal"}, "encoding": {"x": {"datum": 4}, "y": {"datum": -5}}}
 ]
},
{
 "width": 405, "height": 300,
 "layer": [
  {"data": {"name": "s22"},
   "mark": {"type": "line", "strokeWidth": 4.5, "interpolate": "monotone", "clip": true},
   "encoding": {
    "x": {"field": "f", "type": "quantitative", "scale": {"domain": [2, 4], "nice": false, "zero": false}, "axis": {"values": [2, 2.2, 2.4, 2.6, 2.8, 3, 3.2, 3.4, 3.6, 3.8, 4], "title": "Fréquence (Hz)"}},
    "y": {"field": "v", "type": "quantitative", "scale": {"domain": [-45, -10], "nice": false, "zero": false}, "axis": {"values": [-45, -40, -35, -30, -25, -20, -15, -10], "title": "|S₂₂|(dB)", "titlePadding": 20}},
    "color": {"field": "k", "type": "ordinal", "legend": {"title": null}}
   }},
  {"data": {"name": "s22"},
   "transform": [{"filter": {"field": "k", "oneOf": [24, 36, 44]}}],
   "mark": {"type": "line", "stroke": "black", "strokeWidth": 1, "strokeDash": [1, 3], "opacity": 0.6, "interpolate": "monotone", "clip": true},
   "encoding": {"x": {"field": "f", "type": "quantitative"}, "y": {"field": "v", "type": "quantitative"}, "detail": {"field": "k"}}},
  {"data": {"values": [{}]}, "mark": {"type": "rule", "strokeDash": [6, 3], "strokeWidth": 3, "color": "black"}, "encoding": {"y": {"datum": -10}}},
  {"data": {"values": [{}]}, "mark": {"type": "text", "text": "x 10⁹", "align": "right", "baseline": "alphabetic", "dy": 44, "fontSize": 13, "fontWeight": "normal"}, "encoding": {"x": {"datum": 4}, "y": {"datum": -45}}}
 ]
},
{
 "width": 405, "height": 300,
 "layer": [
  {"data": {"name": "s21"},
   "mark": {"type": "line", "strokeWidth": 4.5, "interpolate": "monotone", "clip": true},
   "encoding": {
    "x": {"field": "f", "type": "quantitative", "scale": {"domain": [2, 4], "nice": false, "zero": false}, "axis": {"values": [2, 2.2, 2.4, 2.6, 2.8, 3, 3.2, 3.4, 3.6, 3.8, 4], "title": "Fréquence (Hz)"}},
    "y": {"field": "v", "type": "quantitative", "scale": {"domain": [-5, -2.5], "nice": false, "zero": false}, "axis": {"values": [-5, -4.5, -4, -3.5, -3, -2.5], "title": "|S₁₂|(dB)"}},
    "color": {"field": "k", "type": "ordinal", "legend": {"title": null}}
   }},
  {"data": {"name": "s21"},
   "transform": [{"filter": {"field": "k", "oneOf": [24, 36, 44]}}],
   "mark": {"type": "line", "stroke": "black", "strokeWidth": 1, "strokeDash": [1, 3], "opacity": 0.6, "interpolate": "monotone", "clip": true},
   "encoding": {"x": {"field": "f", "type": "quantitative"}, "y": {"field": "v", "type": "quantitative"}, "detail": {"field": "k"}}},
  {"data": {"values": [{}]}, "mark": {"type": "rule", "strokeDash": [6, 3], "strokeWidth": 3, "color": "black"}, "encoding": {"y": {"datum": -4.5}}},
  {"data": {"values": [{}]}, "mark": {"type": "text", "text": "x 10⁹", "align": "right", "baseline": "alphabetic", "dy": 44, "fontSize": 13, "fontWeight": "normal"}, "encoding": {"x": {"datum": 4}, "y": {"datum": -5}}}
 ]
}
]
}
